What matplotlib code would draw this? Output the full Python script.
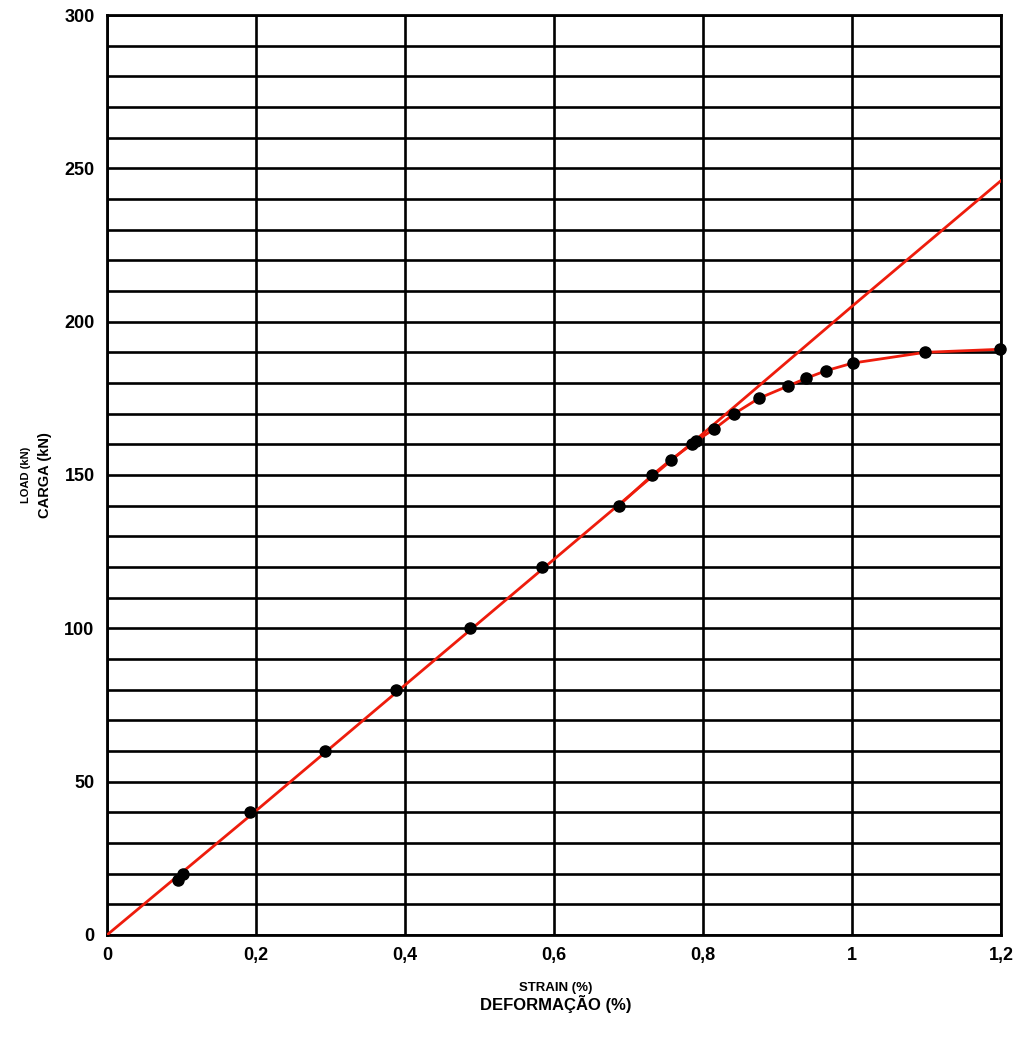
import numpy as np
import matplotlib.pyplot as plt
from matplotlib.ticker import MultipleLocator, FixedLocator

plt.rcParams['font.family'] = ['Liberation Sans', 'DejaVu Sans']

# Measured points: strain (%) / load (kN)
strain = [0.095, 0.102, 0.192, 0.293, 0.388, 0.487, 0.584, 0.687, 0.732, 0.757,
          0.785, 0.790, 0.815, 0.842, 0.875, 0.914, 0.938, 0.965, 1.001, 1.098, 1.199]
load = [18, 20, 40, 60, 80, 100, 120, 140, 150, 155,
        160, 161, 165, 170, 175, 179, 181.5, 184, 186.5, 190, 191]

# Elastic (linear) reference line
lin_strain = [0.0, 0.2, 0.4, 0.6, 0.8, 1.0, 1.2]
lin_load = [0, 40.5, 81.5, 122.5, 163.5, 205, 246]

x_ticks = [0, 0.2, 0.4, 0.6, 0.8, 1.0, 1.2]
x_labels = ['0', '0,2', '0,4', '0,6', '0,8', '1', '1,2']
y_ticks = [0, 50, 100, 150, 200, 250, 300]

fig = plt.figure(figsize=(10.21, 10.37), dpi=100)
ax = fig.add_axes([0.1048, 0.0984, 0.8756, 0.8871])

ax.set_xlim(0, 1.2)
ax.set_ylim(0, 300)

# grid: vertical every 0.2, horizontal every 10 kN
ax.xaxis.set_major_locator(FixedLocator(x_ticks))
ax.yaxis.set_major_locator(FixedLocator(y_ticks))
ax.yaxis.set_minor_locator(MultipleLocator(10))
ax.grid(True, which='major', color='black', linewidth=1.9)
ax.grid(True, which='minor', axis='y', color='black', linewidth=1.9)
ax.set_axisbelow(True)

for s in ax.spines.values():
    s.set_linewidth(2.0)

ax.tick_params(which='both', length=0, pad=9)
ax.set_xticklabels(x_labels, fontsize=13, fontweight='bold')
ax.set_yticklabels([str(v) for v in y_ticks], fontsize=13, fontweight='bold')

# red lines: linear elastic line and the test curve past the proportional limit
ax.plot(lin_strain, lin_load, color='#ee1c0c', linewidth=2.0, zorder=3)
ax.plot(strain[7:], load[7:], color='#ee1c0c', linewidth=2.0, zorder=3)

# measured points
ax.plot(strain, load, 'o', color='black', markersize=8, zorder=4, clip_on=False)

# axis titles
fig.text(0.025, 0.542, 'LOAD (kN)', rotation=90, ha='center', va='center',
         fontsize=8, fontweight='bold')
fig.text(0.044, 0.542, 'CARGA (kN)', rotation=90, ha='center', va='center',
         fontsize=10.5, fontweight='bold')
fig.text(0.544, 0.047, 'STRAIN (%)', ha='center', va='center',
         fontsize=9.5, fontweight='bold')
fig.text(0.544, 0.032, 'DEFORMAÇÃO (%)', ha='center', va='center',
         fontsize=12, fontweight='bold')

fig.savefig('out.png', dpi=100)
